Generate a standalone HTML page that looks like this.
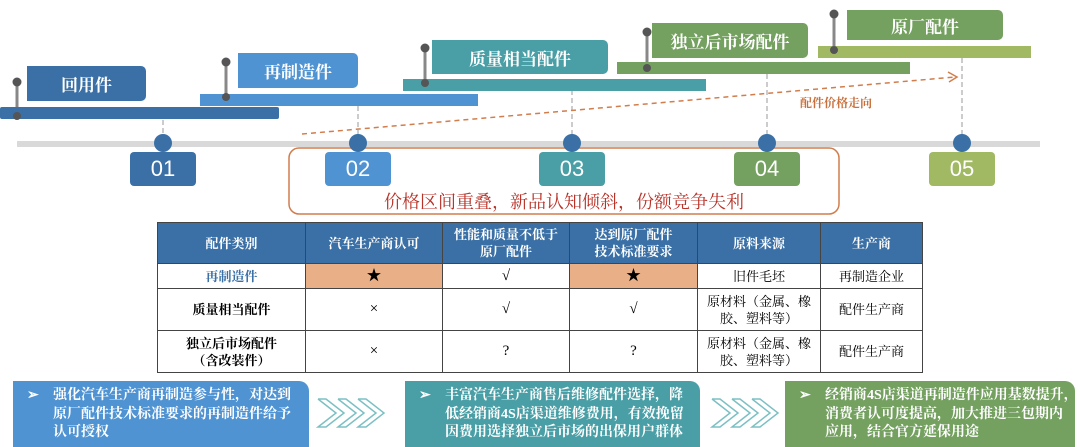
<!DOCTYPE html>
<html><head><meta charset="utf-8"><style>
*{margin:0;padding:0;box-sizing:border-box}
body{width:1080px;height:446px;background:#fff;position:relative;overflow:hidden;font-family:"Liberation Serif","Noto Serif CJK SC","Noto Sans CJK SC",serif}
.a{position:absolute}
.lab{position:absolute;color:#fff;font-weight:bold;font-size:17px;display:flex;align-items:center;justify-content:center;border-radius:0 5px 5px 0}
.bar{position:absolute;height:12px}
.num{position:absolute;width:66px;height:34px;top:152px;color:#fff;font-size:22px;font-family:"Liberation Sans",sans-serif;display:flex;align-items:center;justify-content:center;border-radius:4px}
table{position:absolute;left:157px;top:222px;width:766px;border-collapse:collapse;font-size:13px}
td{border:1px solid #444;text-align:center;vertical-align:middle;padding:0 4px;line-height:17px}
td.s{font-size:15px}
tr.h td{background:#3a70a6;color:#fff;font-weight:bold;height:41px}
.or{background:#e9b088}
.bx{position:absolute;top:381px;height:66px;color:#fff;font-weight:bold;font-size:14px;line-height:18.5px;padding:6px 0 0 40px;border-radius:0 10px 0 0;overflow:hidden;white-space:nowrap}
.bx span{position:absolute;left:14px;top:6px}
</style></head><body>
<svg class="a" style="left:0;top:0" width="1080" height="446">
<rect x="17" y="141" width="1023" height="6" fill="#d9d9d9"/>
<g stroke="#ccc" stroke-width="2" stroke-dasharray="5,3">
<line x1="163" y1="120" x2="163" y2="136"/><line x1="358" y1="106" x2="358" y2="136"/>
<line x1="572" y1="90" x2="572" y2="136"/><line x1="767" y1="74" x2="767" y2="136"/>
<line x1="962" y1="58" x2="962" y2="136"/></g>
<line x1="302" y1="134" x2="955" y2="77" stroke="#d27d4c" stroke-width="1.5" stroke-dasharray="5,4"/>
<polyline points="948,72 957,77 949,82" fill="none" stroke="#d27d4c" stroke-width="1.5"/>
<rect x="289" y="148" width="550" height="66" rx="10" fill="none" stroke="#d27d4c" stroke-width="1.5"/>
<g fill="#3a70a6"><circle cx="163" cy="143" r="9"/><circle cx="358" cy="143" r="9"/><circle cx="572" cy="143" r="9"/><circle cx="767" cy="143" r="9"/><circle cx="962" cy="143" r="9"/></g>
<g stroke="#888" stroke-width="3">
<line x1="17" y1="82" x2="17" y2="116"/><line x1="226" y1="62" x2="226" y2="97"/><line x1="425" y1="48" x2="425" y2="82"/><line x1="647" y1="32" x2="647" y2="68"/><line x1="834" y1="14" x2="834" y2="50"/></g>
</svg>
<div class="bar" style="left:0;top:107px;width:279px;background:#3a70a6;border-radius:2px"></div>
<div class="bar" style="left:200px;top:94px;width:278px;background:#4f93d2"></div>
<div class="bar" style="left:403px;top:79px;width:303px;background:#4a9fa6"></div>
<div class="bar" style="left:617px;top:62px;width:293px;background:#74a060"></div>
<div class="bar" style="left:818px;top:46px;width:213px;background:#a2b964"></div>
<svg class="a" style="left:0;top:0" width="1080" height="130"><g fill="#555">
<circle cx="17" cy="82" r="4.5"/><circle cx="17" cy="116" r="4"/>
<circle cx="226" cy="62" r="4.5"/><circle cx="226" cy="97" r="4"/>
<circle cx="425" cy="48" r="4.5"/><circle cx="425" cy="83" r="4"/>
<circle cx="647" cy="32" r="4.5"/><circle cx="647" cy="68" r="4"/>
<circle cx="834" cy="14" r="4.5"/><circle cx="834" cy="50" r="4"/></g></svg>
<div class="lab" style="left:27px;top:66px;width:119px;height:35px;background:#3a70a6">回用件</div>
<div class="lab" style="left:238px;top:53px;width:120px;height:35px;background:#4f93d2">再制造件</div>
<div class="lab" style="left:432px;top:40px;width:176px;height:34px;background:#4a9fa6">质量相当配件</div>
<div class="lab" style="left:652px;top:23px;width:156px;height:35px;background:#74a060">独立后市场配件</div>
<div class="lab" style="left:847px;top:10px;width:156px;height:30px;background:#74a060">原厂配件</div>
<div class="num" style="left:130px;background:#3a70a6">01</div>
<div class="num" style="left:325px;background:#4f93d2">02</div>
<div class="num" style="left:539px;background:#4a9fa6">03</div>
<div class="num" style="left:734px;background:#74a060">04</div>
<div class="num" style="left:929px;background:#a2b964">05</div>
<div class="a" style="left:800px;top:94px;font-size:12px;font-weight:bold;color:#c8703c">配件价格走向</div>
<div class="a" style="left:289px;top:188px;width:550px;text-align:center;font-size:18px;color:#b83228">价格区间重叠，新品认知倾斜，份额竞争失利</div>
<table>
<tr class="h"><td style="width:148px">配件类别</td><td style="width:137px">汽车生产商认可</td><td style="width:127px">性能和质量不低于<br>原厂配件</td><td style="width:128px">达到原厂配件<br>技术标准要求</td><td style="width:123px">原料来源</td><td>生产商</td></tr>
<tr style="height:25px"><td style="color:#3a70a6;font-weight:bold">再制造件</td><td class="or s">★</td><td class="s">√</td><td class="or s">★</td><td>旧件毛坯</td><td>再制造企业</td></tr>
<tr style="height:42px"><td style="font-weight:bold">质量相当配件</td><td class="s">×</td><td class="s">√</td><td class="s">√</td><td>原材料（金属、橡<br>胶、塑料等）</td><td>配件生产商</td></tr>
<tr style="height:42px"><td style="font-weight:bold">独立后市场配件<br>（含改装件）</td><td class="s">×</td><td class="s">?</td><td class="s">?</td><td>原材料（金属、橡<br>胶、塑料等）</td><td>配件生产商</td></tr>
</table>
<div class="bx" style="left:13px;width:296px;background:#4f93d2"><span>➢</span>强化汽车生产商再制造参与性，对达到<br>原厂配件技术标准要求的再制造件给予<br>认可授权</div>
<div class="bx" style="left:405px;width:295px;background:#4a9fa6"><span>➢</span>丰富汽车生产商售后维修配件选择，降<br>低经销商4S店渠道维修费用，有效挽留<br>因费用选择独立后市场的出保用户群体</div>
<div class="bx" style="left:785px;width:290px;background:#74a060"><span>➢</span>经销商4S店渠道再制造件应用基数提升，<br>消费者认可度提高，加大推进三包期内<br>应用，结合官方延保用途</div>
<svg class="a" style="left:0;top:380px" width="1080" height="66"><g fill="none" stroke="#7cc0c4" stroke-width="1.5">
<polyline points="318,19 336,33 318,47 326,47 344,33 326,19 318,19"/>
<polyline points="338,19 356,33 338,47 346,47 364,33 346,19 338,19"/>
<polyline points="358,19 376,33 358,47 366,47 384,33 366,19 358,19"/>
<polyline points="712,19 730,33 712,47 720,47 738,33 720,19 712,19"/>
<polyline points="732,19 750,33 732,47 740,47 758,33 740,19 732,19"/>
<polyline points="752,19 770,33 752,47 760,47 778,33 760,19 752,19"/></g></svg>
</body></html>
